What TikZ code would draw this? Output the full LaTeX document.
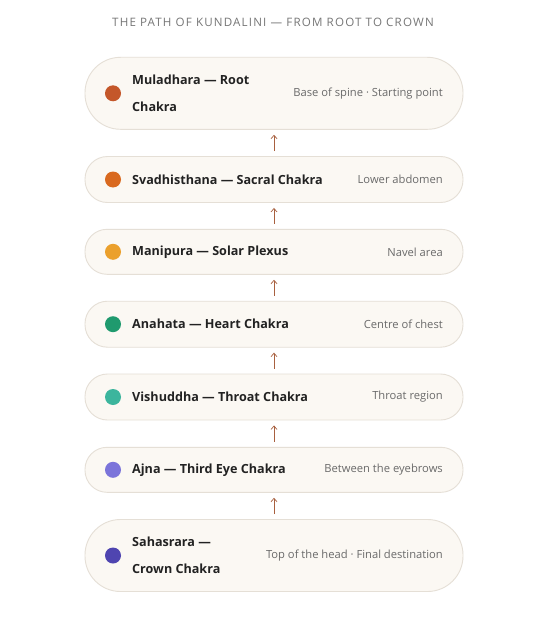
\documentclass[tikz,border=0pt]{standalone}
\usepackage{fontspec}
\setmainfont{Open Sans}
\newfontfamily\headfont[LetterSpace=10]{Open Sans}
\usetikzlibrary{arrows.meta}
\definecolor{boxfill}{HTML}{FBF8F3}
\definecolor{boxline}{HTML}{E5DFD6}
\definecolor{arrowc}{HTML}{A8603F}
\definecolor{headc}{HTML}{767676}
\definecolor{titlec}{HTML}{222222}
\definecolor{descc}{HTML}{6A6A6A}
\definecolor{cA}{HTML}{C4572A}
\definecolor{cB}{HTML}{D9691F}
\definecolor{cC}{HTML}{EBA02C}
\definecolor{cD}{HTML}{1F9A6E}
\definecolor{cE}{HTML}{3CB59D}
\definecolor{cF}{HTML}{7B74DA}
\definecolor{cG}{HTML}{4F45B0}
\tikzset{
  pill/.style={draw=boxline, line width=0.9pt, fill=boxfill, minimum width=378pt, minimum height=#1, rounded corners=#1/2-0.5pt, inner sep=0pt},
  dotn/.style={circle, fill=#1, minimum size=16pt, inner sep=0pt},
  ttl/.style={anchor=west, inner sep=0pt, font=\fontsize{12.6}{27}\selectfont\bfseries, text=titlec, align=left},
  dsc/.style={anchor=east, inner sep=0pt, font=\fontsize{11.2}{13}\selectfont, text=descc},
  upar/.style={draw=arrowc, line width=0.7pt, -{Straight Barb[length=3.5pt,width=6pt]}, shorten >=5pt, shorten <=5pt}
}
\begin{document}
\begin{tikzpicture}[x=1pt,y=-1pt]
\useasboundingbox[fill=white] (0,0) rectangle (546,618);
\node[inner sep=0pt, text=headc, font=\headfont\fontsize{11.6}{13}\selectfont] (head) at (273,22) {THE PATH OF KUNDALINI — FROM ROOT TO CROWN};
% boxes
\node[pill=72pt] (b1) at (274,93.3) {};
\node[pill=46pt] (b2) at (274,179.5) {};
\node[pill=45pt] (b3) at (274,251.8) {};
\node[pill=46pt] (b4) at (274,324.2) {};
\node[pill=46pt] (b5) at (274,397) {};
\node[pill=45pt] (b6) at (274,469.8) {};
\node[pill=72pt] (b7) at (274,555.5) {};
% dots
\node[dotn=cA] (d1) at (113,93.3) {};
\node[dotn=cB] (d2) at (113,179.5) {};
\node[dotn=cC] (d3) at (113,251.8) {};
\node[dotn=cD] (d4) at (113,324.2) {};
\node[dotn=cE] (d5) at (113,397) {};
\node[dotn=cF] (d6) at (113,469.8) {};
\node[dotn=cG] (d7) at (113,555.5) {};
% titles
\node[ttl] (t1) at (132,93.3) {Muladhara — Root\\Chakra};
\node[ttl] (t2) at (132,179.5) {Svadhisthana — Sacral Chakra};
\node[ttl] (t3) at (132,251.8) {Manipura — Solar Plexus};
\node[ttl] (t4) at (132,324.2) {Anahata — Heart Chakra};
\node[ttl] (t5) at (132,397) {Vishuddha — Throat Chakra};
\node[ttl] (t6) at (132,469.8) {Ajna — Third Eye Chakra};
\node[ttl] (t7) at (132,555.5) {Sahasrara —\\Crown Chakra};
% descriptions
\node[dsc] (s1) at (443,93.3) {Base of spine · Starting point};
\node[dsc] (s2) at (443,179.5) {Lower abdomen};
\node[dsc] (s3) at (443,251.8) {Navel area};
\node[dsc] (s4) at (443,324.2) {Centre of chest};
\node[dsc] (s5) at (443,397) {Throat region};
\node[dsc] (s6) at (443,469.8) {Between the eyebrows};
\node[dsc] (s7) at (443,555.5) {Top of the head · Final destination};
% arrows
\draw[upar] (b2.north) -- (b1.south);
\draw[upar] (b3.north) -- (b2.south);
\draw[upar] (b4.north) -- (b3.south);
\draw[upar] (b5.north) -- (b4.south);
\draw[upar] (b6.north) -- (b5.south);
\draw[upar] (b7.north) -- (b6.south);
\end{tikzpicture}
\end{document}
